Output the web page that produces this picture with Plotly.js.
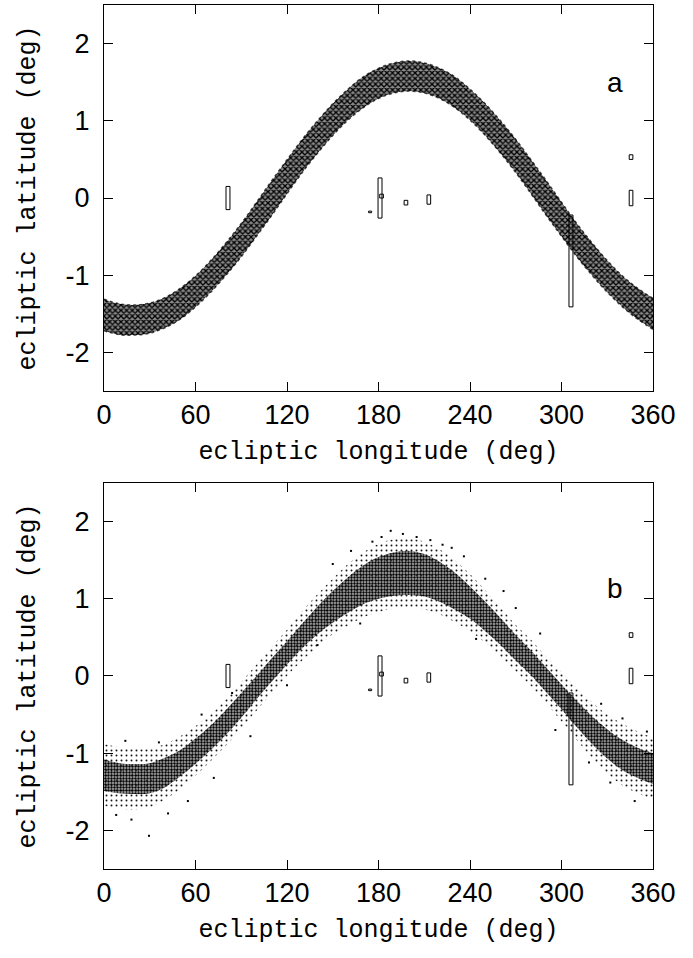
<!DOCTYPE html>
<html>
<head>
<meta charset="utf-8">
<script src="https://cdn.plot.ly/plotly-3.0.1.min.js"></script>
<style>html,body{margin:0;padding:0;background:#fff;}#chart{width:693px;height:958px;}</style>
</head>
<body>
<div id="chart"></div>
<script>
// ---- data ----
var lonGrid = [0,10,20,30,40,50,60,70,80,90,100,110,120,130,140,150,160,170,180,190,200,210,220,230,240,250,260,270,280,290,300,310,320,330,340,350,360];

// panel a: band edges (ecliptic latitude, deg)
var bandUpA = [-1.31,-1.37,-1.385,-1.36,-1.29,-1.17,-1.01,-0.81,-0.58,-0.33,-0.055,0.225,0.495,0.76,1.00,1.22,1.41,1.57,1.68,1.75,1.775,1.75,1.68,1.57,1.41,1.22,1.00,0.76,0.495,0.225,-0.055,-0.33,-0.58,-0.81,-1.01,-1.17,-1.30];
var bandLoA = [-1.72,-1.77,-1.775,-1.75,-1.68,-1.57,-1.41,-1.22,-1.00,-0.76,-0.495,-0.225,0.055,0.33,0.58,0.81,1.01,1.17,1.29,1.36,1.385,1.36,1.29,1.17,1.01,0.81,0.58,0.33,0.055,-0.225,-0.495,-0.76,-1.00,-1.22,-1.41,-1.57,-1.70];

// panel b: dense core and sparse outer envelope of the point cloud
var coreUpB = [-1.08,-1.13,-1.14,-1.13,-1.06,-0.96,-0.81,-0.64,-0.44,-0.22,0.00,0.23,0.45,0.68,0.90,1.10,1.28,1.43,1.54,1.60,1.62,1.58,1.48,1.34,1.16,0.96,0.75,0.53,0.33,0.11,-0.11,-0.32,-0.52,-0.69,-0.83,-0.93,-1.00];
var coreLoB = [-1.49,-1.52,-1.53,-1.52,-1.44,-1.30,-1.14,-0.96,-0.76,-0.54,-0.30,-0.07,0.15,0.36,0.54,0.69,0.82,0.93,1.00,1.04,1.05,1.03,0.96,0.86,0.74,0.58,0.40,0.20,0.01,-0.21,-0.43,-0.66,-0.88,-1.07,-1.22,-1.32,-1.40];
var outUpB = [-0.88,-0.92,-0.93,-0.94,-0.88,-0.78,-0.65,-0.50,-0.30,-0.08,0.15,0.38,0.60,0.84,1.06,1.26,1.45,1.60,1.71,1.77,1.78,1.74,1.64,1.50,1.32,1.11,0.89,0.66,0.47,0.25,0.05,-0.15,-0.34,-0.50,-0.62,-0.72,-0.80];
var outLoB = [-1.68,-1.72,-1.73,-1.70,-1.60,-1.46,-1.29,-1.10,-0.90,-0.68,-0.45,-0.22,0.00,0.20,0.38,0.54,0.65,0.76,0.83,0.87,0.88,0.86,0.80,0.70,0.58,0.43,0.25,0.06,-0.13,-0.35,-0.59,-0.83,-1.06,-1.26,-1.42,-1.52,-1.60];

// panel b: isolated outlying points
var outlierLon = [29.5,18,8,42,55,96,150,162,176,188,196,205,214,222,236,262,270,318,332,348,356,64,120,250,14,36,72,84,140,168,182,228,244,286,296,326,340];
var outlierLat = [-2.07,-1.86,-1.80,-1.78,-1.62,-0.78,1.45,1.62,1.74,1.88,1.84,1.80,1.76,1.70,1.55,1.10,0.88,-1.12,-1.38,-1.62,-0.72,-0.50,-0.12,1.26,-0.84,-0.86,-1.32,-0.22,0.40,0.68,1.80,1.66,0.48,0.55,-0.70,-0.36,-0.55];

// small boxes (same in both panels): centre longitude, latitude range, half width (deg)
var boxLon  = [81.3, 181.0, 182.0, 198.0, 213.0, 306.2, 345.6, 345.6, 174.5];
var boxLatLo = [-0.15, -0.26, 0.00, -0.09, -0.08, -1.41, -0.10, 0.50, -0.19];
var boxLatHi = [0.15, 0.26, 0.05, -0.03, 0.04, -0.22, 0.10, 0.56, -0.17];
var boxHalfW = [1.3, 1.3, 1.2, 1.2, 1.2, 1.3, 1.2, 1.2, 1.0];

var panelLabels = ['a', 'b'];
var panelLabelLon = [335, 335];
var panelLabelLat = [1.5, 1.13];

var xTickVals = [0,60,120,180,240,300,360];
var xTickText = ['0','60','120','180','240','300','360'];
var yTickVals = [-2,-1,0,1,2];
var yTickText = ['-2','-1','0','1','2'];
var xTitle = 'ecliptic longitude (deg)';
var yTitle = 'ecliptic latitude (deg)';

// ---- build traces ----
function boxPath() {
  var xs = [], ys = [];
  for (var i = 0; i < boxLon.length; i++) {
    var l = boxLon[i] - boxHalfW[i], r = boxLon[i] + boxHalfW[i];
    xs.push(l, r, r, l, l, null);
    ys.push(boxLatLo[i], boxLatLo[i], boxLatHi[i], boxLatHi[i], boxLatLo[i], null);
  }
  return {x: xs, y: ys};
}
var bp = boxPath();
var traces = [];
// panel a band
traces.push({x: lonGrid, y: bandLoA, xaxis: 'x', yaxis: 'y', mode: 'lines', line: {shape: 'spline', width: 1.5, color: 'rgba(0,0,0,0.7)', dash: 'dot'}, hoverinfo: 'skip', showlegend: false});
traces.push({x: lonGrid, y: bandUpA, xaxis: 'x', yaxis: 'y', mode: 'lines', fill: 'tonexty',
  fillcolor: 'rgba(0,0,0,0)',
  fillpattern: {shape: 'x', size: 4, solidity: 0.55, fgcolor: '#000', bgcolor: '#8a8a8a', fillmode: 'replace'},
  line: {shape: 'spline', width: 1.5, color: 'rgba(0,0,0,0.7)', dash: 'dot'}, hoverinfo: 'skip', showlegend: false});
// panel b outer envelope
traces.push({x: lonGrid, y: outLoB, xaxis: 'x2', yaxis: 'y2', mode: 'lines', line: {shape: 'spline', width: 0}, hoverinfo: 'skip', showlegend: false});
traces.push({x: lonGrid, y: outUpB, xaxis: 'x2', yaxis: 'y2', mode: 'lines', fill: 'tonexty',
  fillcolor: 'rgba(0,0,0,0)',
  fillpattern: {shape: '.', size: 5, solidity: 0.12, fgcolor: '#111', bgcolor: 'rgba(255,255,255,0)', fillmode: 'replace'},
  line: {shape: 'spline', width: 0}, hoverinfo: 'skip', showlegend: false});
// panel b core
traces.push({x: lonGrid, y: coreLoB, xaxis: 'x2', yaxis: 'y2', mode: 'lines', line: {shape: 'spline', width: 0}, hoverinfo: 'skip', showlegend: false});
traces.push({x: lonGrid, y: coreUpB, xaxis: 'x2', yaxis: 'y2', mode: 'lines', fill: 'tonexty',
  fillcolor: 'rgba(0,0,0,0)',
  fillpattern: {shape: '.', size: 3, solidity: 0.5, fgcolor: '#000', bgcolor: 'rgba(90,90,90,0.45)', fillmode: 'replace'},
  line: {shape: 'spline', width: 0}, hoverinfo: 'skip', showlegend: false});
traces.push({x: outlierLon, y: outlierLat, xaxis: 'x2', yaxis: 'y2', mode: 'markers', marker: {size: 2, color: '#000', symbol: 'square'}, hoverinfo: 'skip', showlegend: false});
// boxes
['y', 'y2'].forEach(function (ya, k) {
  traces.push({x: bp.x, y: bp.y, xaxis: k ? 'x2' : 'x', yaxis: ya, mode: 'lines', line: {color: '#000', width: 1}, connectgaps: false, hoverinfo: 'skip', showlegend: false});
});

var tickFont = {family: 'Liberation Sans, Arial, sans-serif', size: 27, color: '#000'};
var titleFont = {family: 'Liberation Mono, Courier New, monospace', size: 25, color: '#000'};
function xa(anchor) {
  return {anchor: anchor, range: [0, 360], tickvals: xTickVals, ticktext: xTickText, ticks: 'inside', ticklen: 9, tickcolor: '#000', tickwidth: 1,
    showline: true, linecolor: '#000', linewidth: 1, mirror: 'ticks', showgrid: false, zeroline: false,
    tickfont: tickFont, title: {text: xTitle, font: titleFont, standoff: 12}};
}
function ya(anchor, dom) {
  return {anchor: anchor, domain: dom, range: [-2.5, 2.5], tickvals: yTickVals, ticktext: yTickText, ticks: 'inside', ticklen: 9, tickcolor: '#000', tickwidth: 1,
    showline: true, linecolor: '#000', linewidth: 1, mirror: 'ticks', showgrid: false, zeroline: false, ticklabelstandoff: 8,
    tickfont: tickFont, title: {text: yTitle, font: titleFont, standoff: 22}};
}
var annotations = panelLabels.map(function (t, i) {
  return {text: t, x: panelLabelLon[i], y: panelLabelLat[i], xref: i ? 'x2' : 'x', yref: i ? 'y2' : 'y', showarrow: false,
    font: {family: 'Liberation Sans, Arial, sans-serif', size: 28, color: '#000'}};
});
var layout = {
  width: 693, height: 958,
  margin: {l: 104, r: 40, t: 5, b: 89},
  paper_bgcolor: '#fff', plot_bgcolor: '#fff',
  xaxis: xa('y'), yaxis: ya('x', [0.5532, 1]),
  xaxis2: xa('y2'), yaxis2: ya('x2', [0, 0.4468]),
  annotations: annotations,
  showlegend: false
};
Plotly.newPlot('chart', traces, layout, {staticPlot: true, displayModeBar: false});
</script>
</body>
</html>
